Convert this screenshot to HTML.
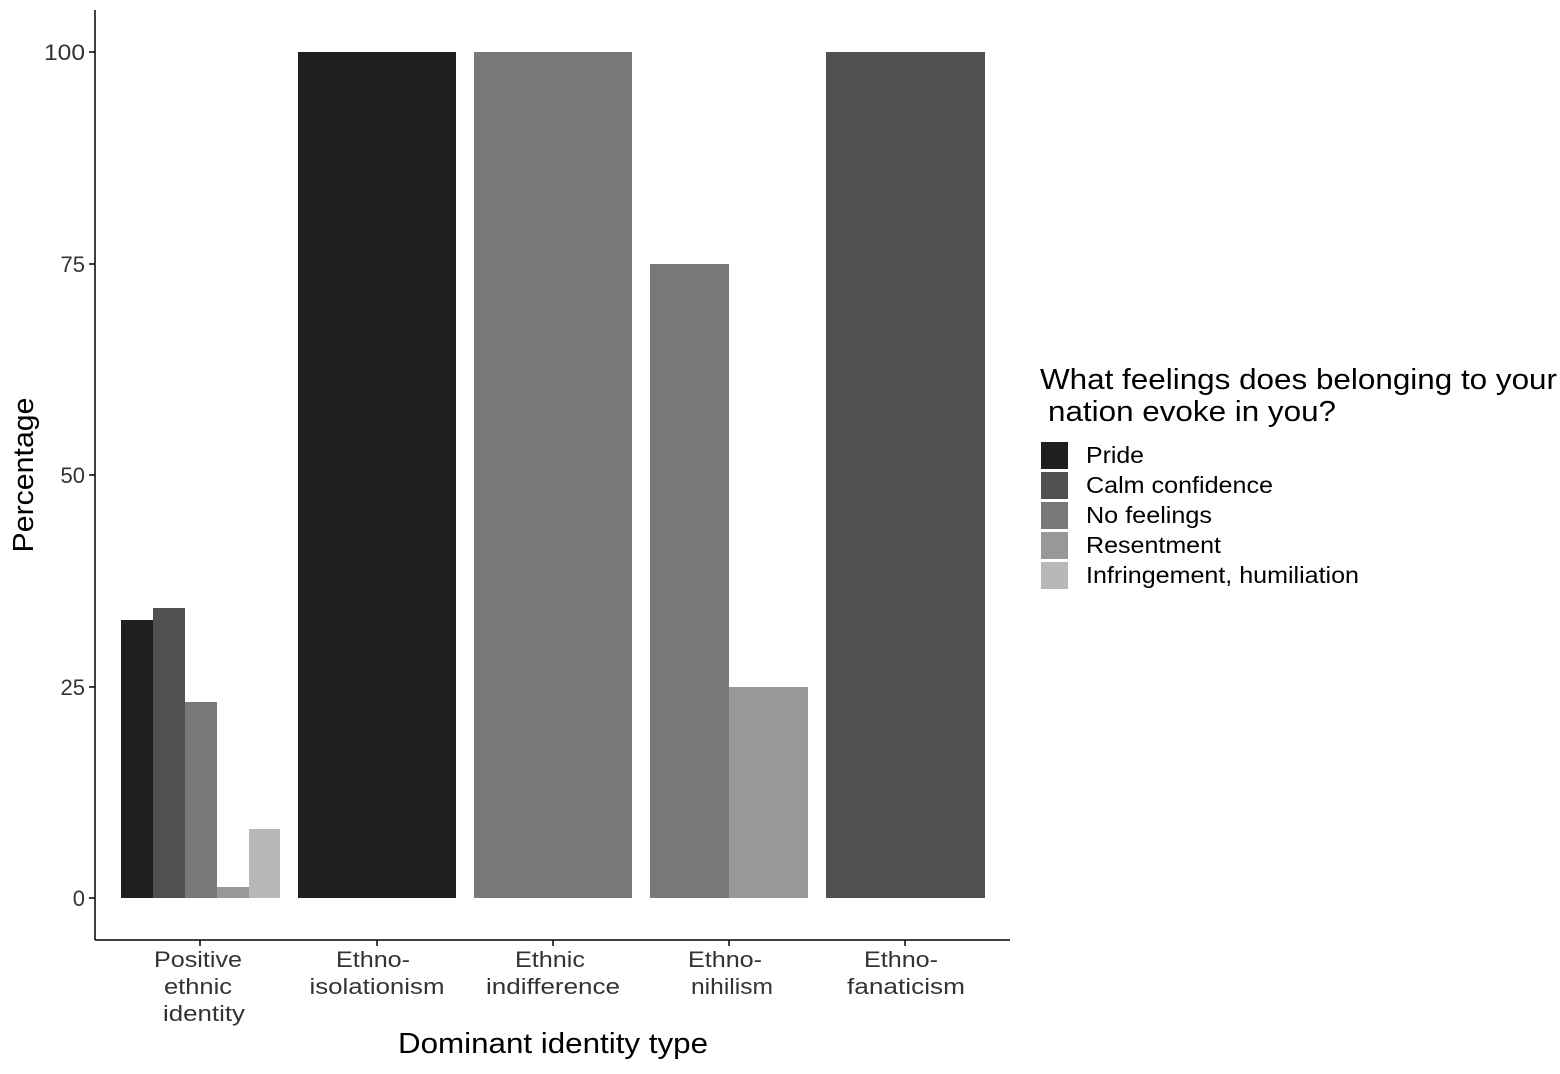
<!DOCTYPE html>
<html><head><style>body{margin:0;background:#fff}</style></head><body>
<svg width="1560" height="1069" xmlns="http://www.w3.org/2000/svg" font-family="Liberation Sans, sans-serif">
<rect width="1560" height="1069" fill="#fff"/>
<g>
<rect x="121" y="620" width="32" height="278" fill="#1f1f1f"/>
<rect x="153" y="608" width="32" height="290" fill="#505050"/>
<rect x="185" y="702" width="32" height="196" fill="#787878"/>
<rect x="217" y="887" width="32" height="11" fill="#989898"/>
<rect x="249" y="829" width="31" height="69" fill="#b8b8b8"/>
<rect x="298" y="52" width="158" height="846" fill="#1f1f1f"/>
<rect x="474" y="52" width="158" height="846" fill="#787878"/>
<rect x="650" y="264" width="79" height="634" fill="#787878"/>
<rect x="729" y="687" width="79" height="211" fill="#989898"/>
<rect x="826" y="52" width="159" height="846" fill="#505050"/>
</g>
<g stroke="#000" stroke-width="1.5">
<line x1="95" y1="10" x2="95" y2="940"/>
<line x1="95" y1="940" x2="1010" y2="940"/>
<line x1="89" y1="898" x2="95" y2="898"/>
<line x1="89" y1="687" x2="95" y2="687"/>
<line x1="89" y1="475" x2="95" y2="475"/>
<line x1="89" y1="264" x2="95" y2="264"/>
<line x1="89" y1="52" x2="95" y2="52"/>
<line x1="200" y1="940" x2="200" y2="946"/>
<line x1="377" y1="940" x2="377" y2="946"/>
<line x1="553" y1="940" x2="553" y2="946"/>
<line x1="729" y1="940" x2="729" y2="946"/>
<line x1="905" y1="940" x2="905" y2="946"/>
</g>
<g font-size="22" fill="#333" text-anchor="end">
<text x="85" y="906">0</text>
<text x="85" y="695">25</text>
<text x="85" y="483">50</text>
<text x="85" y="272">75</text>
<text x="85" y="60" textLength="41" lengthAdjust="spacingAndGlyphs">100</text>
</g>
<g font-size="22" fill="#333" text-anchor="middle" lengthAdjust="spacingAndGlyphs">
<text x="198" y="967" textLength="88" lengthAdjust="spacingAndGlyphs">Positive</text><text x="198" y="994" textLength="68" lengthAdjust="spacingAndGlyphs">ethnic</text><text x="204" y="1021" textLength="82" lengthAdjust="spacingAndGlyphs">identity</text>
<text x="373" y="967" textLength="74" lengthAdjust="spacingAndGlyphs">Ethno-</text><text x="377" y="994" textLength="135" lengthAdjust="spacingAndGlyphs">isolationism</text>
<text x="550" y="967" textLength="70" lengthAdjust="spacingAndGlyphs">Ethnic</text><text x="553" y="994" textLength="134" lengthAdjust="spacingAndGlyphs">indifference</text>
<text x="725" y="967" textLength="74" lengthAdjust="spacingAndGlyphs">Ethno-</text><text x="732" y="994" textLength="82" lengthAdjust="spacingAndGlyphs">nihilism</text>
<text x="901" y="967" textLength="74" lengthAdjust="spacingAndGlyphs">Ethno-</text><text x="906" y="994" textLength="118" lengthAdjust="spacingAndGlyphs">fanaticism</text>
</g>
<text x="553" y="1053" font-size="29" text-anchor="middle" textLength="310" lengthAdjust="spacingAndGlyphs">Dominant identity type</text>
<text transform="translate(33,475) rotate(-90)" font-size="29" text-anchor="middle" textLength="155" lengthAdjust="spacingAndGlyphs">Percentage</text>
<text x="1040" y="389" font-size="29" textLength="517" lengthAdjust="spacingAndGlyphs">What feelings does belonging to your</text>
<text x="1048" y="421" font-size="29" textLength="288" lengthAdjust="spacingAndGlyphs">nation evoke in you?</text>
<rect x="1041" y="442" width="27" height="27" fill="#1f1f1f"/>
<rect x="1041" y="472" width="27" height="27" fill="#505050"/>
<rect x="1041" y="502" width="27" height="27" fill="#787878"/>
<rect x="1041" y="532" width="27" height="27" fill="#989898"/>
<rect x="1041" y="562" width="27" height="27" fill="#b8b8b8"/>
<g font-size="23">
<text x="1086" y="463" textLength="58" lengthAdjust="spacingAndGlyphs">Pride</text>
<text x="1086" y="493" textLength="187" lengthAdjust="spacingAndGlyphs">Calm confidence</text>
<text x="1086" y="523" textLength="126" lengthAdjust="spacingAndGlyphs">No feelings</text>
<text x="1086" y="553" textLength="135" lengthAdjust="spacingAndGlyphs">Resentment</text>
<text x="1086" y="583" textLength="273" lengthAdjust="spacingAndGlyphs">Infringement, humiliation</text>
</g>
</svg>
</body></html>
